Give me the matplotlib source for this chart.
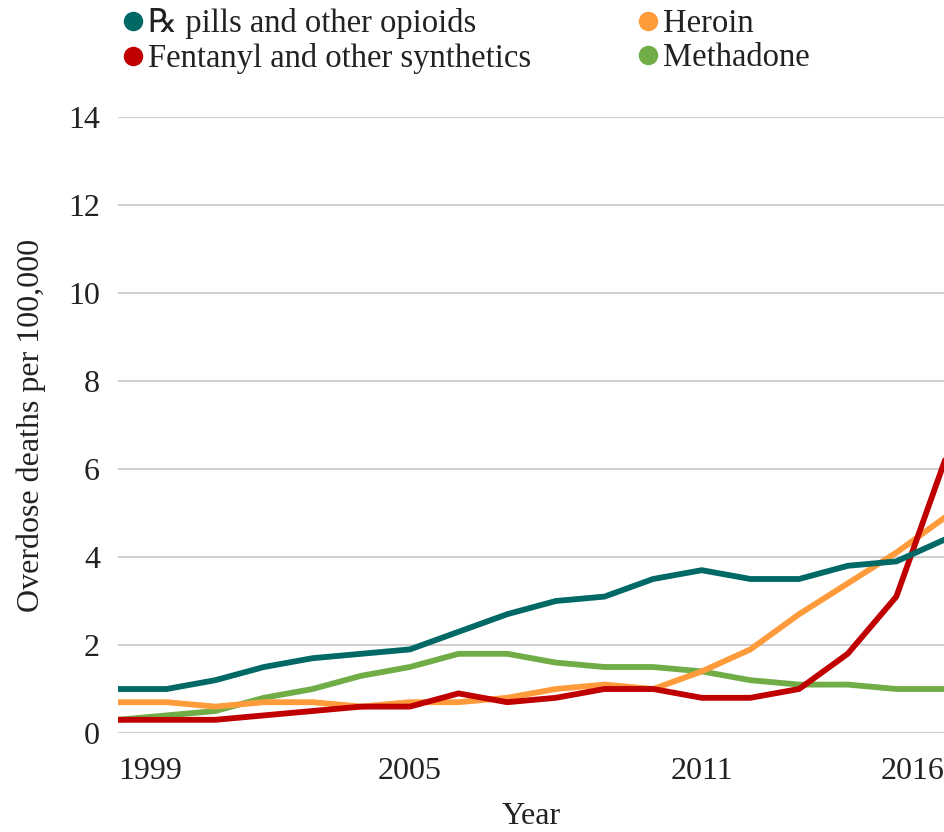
import numpy as np
import matplotlib.pyplot as plt
from matplotlib.lines import Line2D

plt.rcParams['font.family'] = ['Liberation Serif', 'DejaVu Sans', 'Noto Sans']

years = list(range(1999, 2017))
rx_pills = [1.0, 1.0, 1.2, 1.5, 1.7, 1.8, 1.9, 2.3, 2.7, 3.0, 3.1, 3.5, 3.7, 3.5, 3.5, 3.8, 3.9, 4.4]
heroin = [0.7, 0.7, 0.6, 0.7, 0.7, 0.6, 0.7, 0.7, 0.8, 1.0, 1.1, 1.0, 1.4, 1.9, 2.7, 3.4, 4.1, 4.9]
fentanyl = [0.3, 0.3, 0.3, 0.4, 0.5, 0.6, 0.6, 0.9, 0.7, 0.8, 1.0, 1.0, 0.8, 0.8, 1.0, 1.8, 3.1, 6.2]
methadone = [0.3, 0.4, 0.5, 0.8, 1.0, 1.3, 1.5, 1.8, 1.8, 1.6, 1.5, 1.5, 1.4, 1.2, 1.1, 1.1, 1.0, 1.0]

labels = ['\u211e pills and other opioids', 'Heroin', 'Fentanyl and other synthetics', 'Methadone']
colors = ['#006966', '#FF9B3A', '#C00000', '#70AD47']
xticks = [1999, 2005, 2011, 2016]

fig = plt.figure(figsize=(9.45, 8.32), dpi=100)
ax = fig.add_axes([118 / 945, 1 - 733 / 832, 1 - 118 / 945, (733 - 117) / 832])

# draw order: green, orange, red, teal on top
for series, c in [(methadone, colors[3]), (heroin, colors[1]), (fentanyl, colors[2]), (rx_pills, colors[0])]:
    ax.plot(years, series, color=c, lw=4.2, solid_capstyle='round', solid_joinstyle='round')

ax.set_xlim(1999, 2016)
ax.set_ylim(0, 14)
ax.set_yticks(range(0, 15, 2))
ax.set_xticks(xticks)
ax.set_xticklabels([str(y) for y in xticks])
ax.grid(axis='y', color='#D0D0D0', lw=1.5)
ax.set_axisbelow(True)
for s in ax.spines.values():
    s.set_visible(False)
ax.tick_params(length=0, labelsize=23, colors='#222222')
ax.tick_params(axis='y', pad=13)
ax.tick_params(axis='x', pad=17)
xl = ax.get_xticklabels()
xl[0].set_ha('left')
xl[-1].set_ha('right')

ax.set_xlabel('Year', fontsize=23, color='#222222', labelpad=12)
ax.set_ylabel('Overdose deaths per 100,000', fontsize=23, color='#222222', labelpad=16)

handles = [Line2D([], [], ls='none', marker='o', ms=13, color=c) for c in colors]
order = [0, 2, 1, 3]
fig.legend([handles[i] for i in order], [labels[i] for i in order],
           loc='upper left', bbox_to_anchor=(110 / 945, 1.006), ncol=2, frameon=False,
           fontsize=23.5, handlelength=0.6, handletextpad=0.15, columnspacing=3.3,
           labelspacing=0.12, borderaxespad=0, labelcolor='#222222')

fig.savefig('out.png', dpi=100)
